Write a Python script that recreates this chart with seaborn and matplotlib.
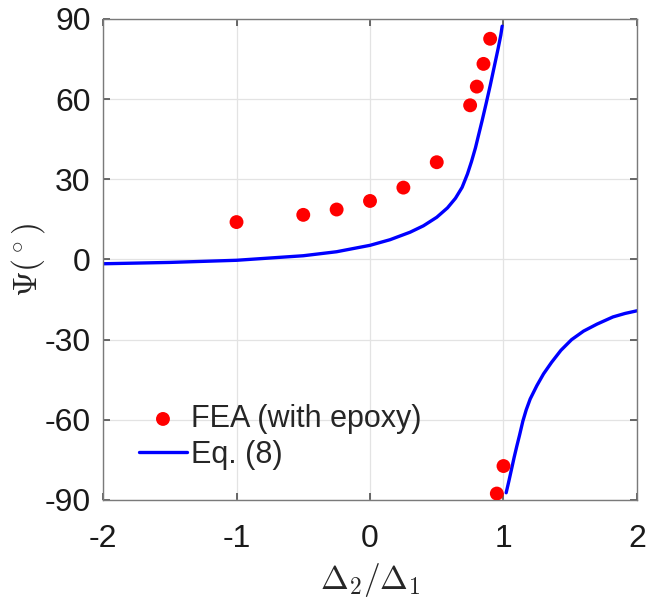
import matplotlib
matplotlib.use("Agg")
import matplotlib.pyplot as plt
import seaborn as sns
import pandas as pd

# FEA data (red dots)
fea_x = [-1.0, -0.5, -0.25, 0.0, 0.25, 0.5, 0.75, 0.8, 0.85, 0.9, 0.95, 1.0]
fea_y = [14.0, 16.7, 18.7, 21.9, 26.9, 36.4, 57.7, 64.7, 73.2, 82.6, -87.6, -77.3]

# Eq. (8) curve, left branch (x < 1)
eq_left_x = [-2.0, -1.5, -1.0, -0.5, -0.25, 0.0, 0.15, 0.3, 0.4, 0.5, 0.58, 0.64,
             0.69, 0.73, 0.76, 0.79, 0.81, 0.84, 0.87, 0.90, 0.93, 0.96, 0.98, 0.99]
eq_left_y = [-1.6, -1.1, -0.3, 1.4, 2.9, 5.3, 7.4, 10.2, 12.6, 15.8, 19.3, 22.9,
             27.0, 32.0, 36.6, 41.8, 45.9, 52.0, 58.4, 65.0, 72.0, 79.0, 84.0, 87.3]
# Eq. (8) curve, right branch (x > 1)
eq_right_x = [1.02, 1.04, 1.06, 1.08, 1.10, 1.12, 1.145, 1.17, 1.20, 1.25, 1.30,
              1.36, 1.43, 1.51, 1.60, 1.70, 1.82, 1.91, 2.0]
eq_right_y = [-87.3, -83.0, -78.5, -74.0, -69.8, -65.8, -60.5, -56.3, -52.2, -47.2,
              -42.8, -38.5, -34.0, -30.0, -26.8, -24.2, -21.5, -20.2, -19.2]

xticks = [-2, -1, 0, 1, 2]
yticks = [-90, -60, -30, 0, 30, 60, 90]

sns.set_theme(style="white")
plt.rcParams["font.family"] = ["Liberation Sans", "DejaVu Sans"]
plt.rcParams["mathtext.fontset"] = "cm"

fig = plt.figure(figsize=(6.48, 6.05), dpi=100)
ax = fig.add_axes([0.159, 0.1736, 0.824, 0.795])

fea = pd.DataFrame({"x": fea_x, "y": fea_y})
left = pd.DataFrame({"x": eq_left_x, "y": eq_left_y})
right = pd.DataFrame({"x": eq_right_x, "y": eq_right_y})

sns.scatterplot(data=fea, x="x", y="y", ax=ax, color="#ff0000", s=100,
                edgecolor="none", label="FEA (with epoxy)", zorder=3)
sns.lineplot(data=left, x="x", y="y", ax=ax, color="#0000ff", linewidth=2.4,
             sort=False, label="Eq. (8)", zorder=2)
sns.lineplot(data=right, x="x", y="y", ax=ax, color="#0000ff", linewidth=2.4,
             sort=False, label="_nolegend_", zorder=2)

ax.set_xlim(-2, 2)
ax.set_ylim(-90, 90)
ax.set_xticks(xticks)
ax.set_yticks(yticks)
ax.set_xticklabels([str(t) for t in xticks], fontsize=23)
ax.set_yticklabels([str(t) for t in yticks], fontsize=23)
ax.grid(True, color="#e3e3e3", linewidth=0.9)
ax.set_axisbelow(True)
for s in ax.spines.values():
    s.set_visible(True)
    s.set_color("#7a7a7a")
    s.set_linewidth(1.0)
ax.tick_params(direction="in", length=5, color="#555555", top=True, right=True,
               bottom=True, left=True, pad=9, labelcolor="#1a1a1a")
ax.tick_params(axis="x", pad=17)

ax.set_xlabel(r"$\Delta_2/\Delta_1$", fontsize=24, labelpad=5)
ax.set_ylabel(r"$\Psi(^\circ)$", fontsize=24)
ax.yaxis.set_label_coords(-0.105, 0.5)

leg = ax.legend(loc="upper left", bbox_to_anchor=(0.045, 0.225), frameon=False,
                fontsize=22, handlelength=1.55, handletextpad=0.15,
                borderaxespad=0, labelspacing=0.2)

fig.savefig("out.png", dpi=100)
